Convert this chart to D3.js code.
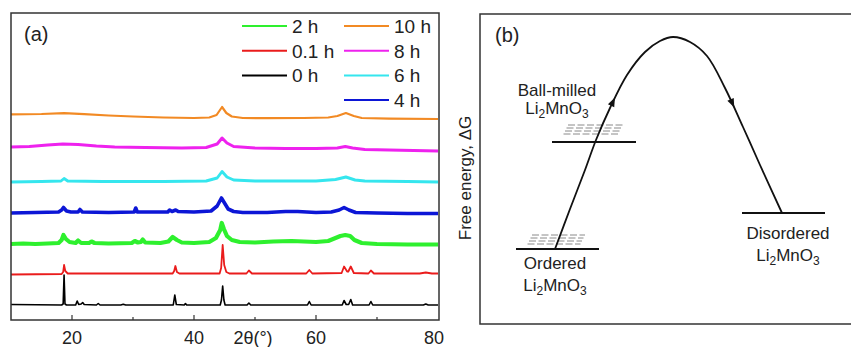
<!DOCTYPE html>
<html>
<head>
<meta charset="utf-8">
<script src="https://cdn.jsdelivr.net/npm/d3@7"></script>
<style>
  body { margin: 0; background: #fff; }
  svg { display: block; font-family: Arial, "Liberation Sans", sans-serif; }
</style>
</head>
<body>
<div id="app"></div>
<script>
// ---- panel (a): XRD patterns, [2theta, intensity] ----
const labels = ['0 h', '0.1 h', '2 h', '4 h', '6 h', '8 h', '10 h'];
const colors = ['#000000', '#ea1c1c', '#2ef02e', '#0c16d6', '#35e6ee', '#ee22ee', '#f28a24'];
const strokes = [1.6, 1.8, 4.2, 3.6, 2.9, 3, 2.2];

const xrd0h = [[10,15.5],[18.3,15],[18.55,16],[18.7,45],[18.85,16],[19.1,15],[20.6,15],[20.85,19],[21.1,15.5],[21.5,16],[21.75,17.5],[22,15.5],[24,15],[24.3,16.5],[24.6,15],[28,15],[28.4,15.8],[28.8,15],[36.6,15],[36.85,25],[37.1,15.5],[38.4,15],[38.6,16.5],[38.8,15],[44.3,15],[44.5,20],[44.7,34],[44.9,20],[45.1,15],[48.7,15],[49,17],[49.3,15],[58.6,15],[58.9,18.5],[59.2,15],[64.3,15],[64.6,19.5],[64.95,15.5],[65.35,15.5],[65.7,20.5],[66,15],[68.7,15],[69,18.5],[69.3,15],[77.6,15],[78,16],[78.4,15],[80,15]];
const xrd01h = [[10,45.5],[18.3,46],[18.55,48],[18.7,55],[18.9,49],[19.3,46.5],[27,46.5],[36.5,46.5],[36.75,49],[36.95,54],[37.2,48],[37.6,46.5],[44.2,46.5],[44.45,52],[44.7,75],[44.95,55],[45.3,48],[45.8,46.5],[48.6,46.5],[49,49.5],[49.5,46.5],[58.4,46.5],[58.9,50],[59.4,46.5],[64.2,47],[64.6,53.5],[65.1,48.5],[65.3,48.5],[65.7,53.5],[66.2,47],[68.6,46.5],[69,49.5],[69.5,46.5],[77,46.5],[78,47.5],[79,46.5],[80,46.5]];
const xrd2h = [[10,76],[12,76.5],[14,76],[16,76.5],[17.8,77],[18.3,80],[18.6,85],[19,81],[19.6,78],[20.6,77],[21,79.5],[21.5,77],[22.8,77],[23.2,78.5],[23.7,77],[26,76.5],[29.8,77],[30.3,79],[30.8,77.5],[31.3,78],[31.6,80.5],[32,77.5],[34.5,77],[35.8,78.5],[36.5,83],[37.2,80],[38,77.5],[40,77],[42.5,78],[43.6,82],[44.3,90],[44.55,97],[44.9,91],[45.4,84],[46.2,80],[47.5,78],[50,77.5],[53,78.5],[56,79],[58,78.5],[60,78],[62,79],[63.2,82],[64,84],[64.8,85],[65.6,84],[66.3,80],[67.5,77],[70,76],[75,75.5],[80,75.5]];
const xrd4h = [[10,107],[14,107.5],[17.8,108],[18.3,110],[18.6,112.5],[19.1,109],[19.8,108],[21,108],[21.3,110.5],[21.7,108],[26,107.5],[30.2,108],[30.45,112],[30.7,108],[32,108],[35.7,108],[36,110],[36.4,108.5],[37,110],[37.4,108.5],[40,108],[42.8,109],[43.8,114],[44.5,122],[45,117],[45.6,111],[46.5,108.5],[48,107.5],[52,107.5],[55,108.5],[57,108.5],[60,107.5],[62.5,108],[63.8,110],[64.6,112.5],[65.4,110],[66.5,107.5],[70,107],[75,106.5],[80,106.5]];
const xrd6h = [[10,138],[15,138.5],[18.2,139],[18.7,141.5],[19.3,139],[25,138.5],[35,138.5],[42,139],[43.8,142],[44.6,148.5],[45.4,143],[46.5,140],[50,139],[60,139],[63.2,140.5],[64.9,143],[66.4,140],[68,139],[75,138.5],[80,138]];
const xrd8h = [[10,173],[13,173.5],[16,175],[18.5,176],[21,175.5],[24,174],[27,173],[32,172.5],[38,172],[42,172.5],[43.8,176],[44.6,182],[45.4,177],[46.5,173.5],[50,172],[55,171.5],[60,171.5],[63.5,172],[64.8,173.5],[66,172],[68,170.5],[72,170],[76,169.5],[80,169]];
const xrd10h = [[10,205.7],[15,206],[18.7,206.8],[22,205.8],[26,204.5],[30,203.5],[35,202.5],[40,202],[42.5,202.5],[43.7,205],[44.6,213],[45.3,207],[46.2,203.5],[48,202],[52,201.8],[58,202],[62,202.5],[63.5,204],[64.9,207],[66.2,204],[67.5,202],[72,201.3],[80,201]];
const patterns = [xrd0h, xrd01h, xrd2h, xrd4h, xrd6h, xrd8h, xrd10h];

const majorTicks = [20, 40, 60, 80];
const minorTicks = [30, 50, 70];

// legend layout: [series index, column, row]
const legendItems = [[2,0,0],[1,0,1],[0,0,2],[6,1,0],[5,1,1],[4,1,2],[3,1,3]];

// ---- panel (b): schematic free-energy path ----
const pathPoints = [[75,75],[90,115],[105,154],[116,184],[130,216],[147,249],[165,272],[180,283],[193,287],[210,282],[227,268],[245,236],[263,197],[280,159],[302,111]];
const levels = [
  { name: 'Ordered', x0: 36, x1: 119, e: 75 },
  { name: 'Ball-milled', x0: 72, x1: 156, e: 182 },
  { name: 'Disordered', x0: 262, x1: 345, e: 111 }
];

const width = 851, height = 347;
const svg = d3.select('#app').append('svg')
  .attr('width', width).attr('height', height);

// ===== panel (a) =====
const x = d3.scaleLinear().domain([10, 80]).range([11, 438]);
const y = d3.scaleLinear().domain([0, 300]).range([320, 20]);

const line = d3.line().x(d => x(d[0])).y(d => y(d[1]));

svg.append('g')
  .selectAll('path')
  .data(patterns)
  .join('path')
  .attr('d', line)
  .attr('fill', 'none')
  .attr('stroke', (d, i) => colors[i])
  .attr('stroke-width', (d, i) => strokes[i])
  .attr('stroke-linejoin', 'round');

// frame
svg.append('rect')
  .attr('x', 11).attr('y', 13).attr('width', 428).attr('height', 307)
  .attr('fill', 'none').attr('stroke', '#333').attr('stroke-width', 1.5);

// inward ticks on the bottom axis
svg.append('g').selectAll('line')
  .data(majorTicks.slice(0, 3).concat(minorTicks))
  .join('line')
  .attr('x1', d => x(d)).attr('x2', d => x(d))
  .attr('y1', 320).attr('y2', d => majorTicks.includes(d) ? 315 : 317)
  .attr('stroke', '#333').attr('stroke-width', 1.2);

svg.append('g').selectAll('text')
  .data(majorTicks)
  .join('text')
  .attr('x', d => x(d) - (d === 80 ? 4 : 0))
  .attr('y', 344)
  .attr('text-anchor', 'middle')
  .attr('font-size', 18)
  .attr('fill', '#222')
  .text(d => d);

svg.append('text')
  .attr('x', 253).attr('y', 344)
  .attr('text-anchor', 'middle')
  .attr('font-size', 18)
  .attr('fill', '#222')
  .text('2θ(°)');

svg.append('text')
  .attr('x', 24).attr('y', 41)
  .attr('font-size', 20)
  .attr('fill', '#222')
  .text('(a)');

// legend
const leg = svg.append('g').selectAll('g')
  .data(legendItems)
  .join('g')
  .attr('transform', d => `translate(${d[1] ? 344 : 242},${26 + d[2] * 24.7})`);
leg.append('line')
  .attr('x1', 0).attr('x2', 45)
  .attr('stroke', d => colors[d[0]])
  .attr('stroke-width', 2);
leg.append('text')
  .attr('x', 50).attr('y', 7)
  .attr('font-size', 19)
  .attr('fill', '#222')
  .text(d => labels[d[0]]);

// ===== panel (b) =====
const bx = d3.scaleLinear().domain([0, 371]).range([480, 851]);
const by = d3.scaleLinear().domain([0, 310]).range([324, 14]);

svg.append('path')
  .attr('d', `M852,14H${bx(0)}V${by(0)}H852`)
  .attr('fill', 'none').attr('stroke', '#333').attr('stroke-width', 1.5);

svg.append('text')
  .attr('x', 495).attr('y', 42)
  .attr('font-size', 20)
  .attr('fill', '#222')
  .text('(b)');

svg.append('text')
  .attr('transform', 'translate(471,178) rotate(-90)')
  .attr('text-anchor', 'middle')
  .attr('font-size', 17)
  .attr('fill', '#222')
  .text('Free energy, ΔG');

// hatching above the ordered and ball-milled levels
const hatch = svg.append('g').attr('stroke', '#8a8a8a').attr('stroke-width', 1)
  .attr('stroke-dasharray', '7,2.5');
[[levels[0], 52, 105, 80], [levels[1], 88, 143, 190]].forEach(([lv, a, b, e0]) => {
  d3.range(4).forEach(k => {
    hatch.append('line')
      .attr('x1', bx(a) - k * 1.5).attr('x2', bx(b) - k * 1.5)
      .attr('y1', by(e0 + 9 - k * 3)).attr('y2', by(e0 + 9 - k * 3));
  });
});

svg.append('g').selectAll('line')
  .data(levels)
  .join('line')
  .attr('x1', d => bx(d.x0)).attr('x2', d => bx(d.x1))
  .attr('y1', d => by(d.e)).attr('y2', d => by(d.e))
  .attr('stroke', '#111').attr('stroke-width', 2);

const curve = svg.append('path')
  .attr('d', d3.line().x(d => bx(d[0])).y(d => by(d[1])).curve(d3.curveCatmullRom)(pathPoints))
  .attr('fill', 'none').attr('stroke', '#111').attr('stroke-width', 1.8);

// arrow heads along the path
const node = curve.node();
const total = node.getTotalLength();
[0.34, 0.74].forEach(f => {
  const p = node.getPointAtLength(total * f);
  const q = node.getPointAtLength(total * f + 1);
  const ang = Math.atan2(q.y - p.y, q.x - p.x) * 180 / Math.PI;
  svg.append('path')
    .attr('d', 'M5,0L-4,-3.5L-4,3.5Z')
    .attr('fill', '#111')
    .attr('transform', `translate(${p.x},${p.y}) rotate(${ang})`);
});

// level labels
const formula = (sel) => {
  sel.append('tspan').text('Li');
  sel.append('tspan').attr('font-size', 12).attr('dy', 4).text('2');
  sel.append('tspan').attr('dy', -4).text('MnO');
  sel.append('tspan').attr('font-size', 12).attr('dy', 4).text('3');
};
const labelPos = [
  { t: 'Ball-milled', x: 557, y1: 96, y2: 114 },
  { t: 'Ordered', x: 555, y1: 269, y2: 291 },
  { t: 'Disordered', x: 788, y1: 239, y2: 261 }
];
labelPos.forEach(d => {
  svg.append('text').attr('x', d.x).attr('y', d.y1)
    .attr('text-anchor', 'middle').attr('font-size', 17).attr('fill', '#222')
    .text(d.t);
  svg.append('text').attr('x', d.x).attr('y', d.y2)
    .attr('text-anchor', 'middle').attr('font-size', 17).attr('fill', '#222')
    .call(formula);
});
</script>
</body>
</html>
